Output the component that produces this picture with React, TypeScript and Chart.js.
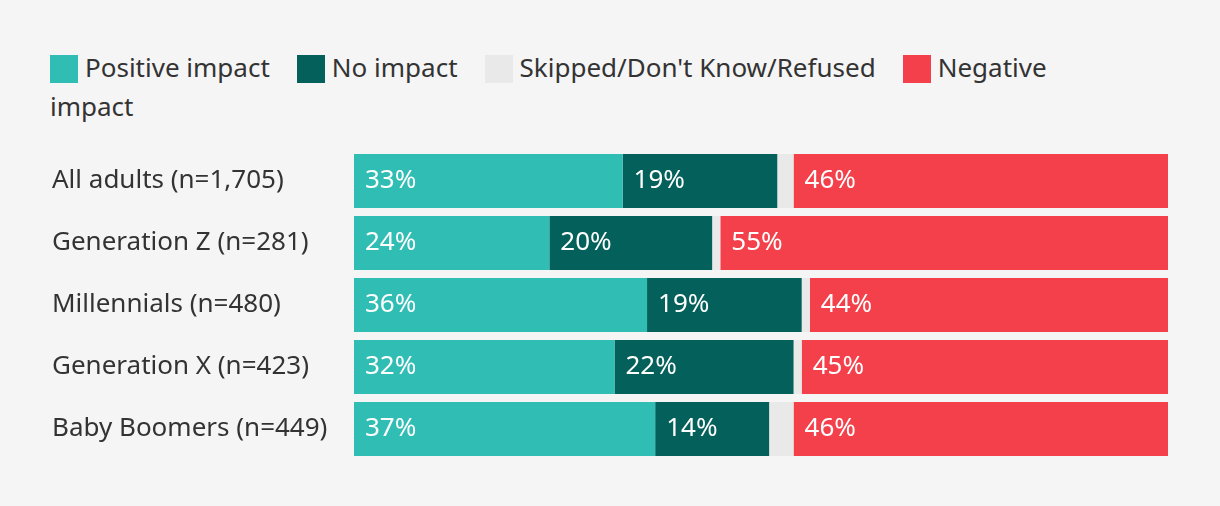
import React, { useEffect, useRef } from "react";
import { Chart, registerables } from "chart.js";

Chart.register(...registerables);

const categories = [
  "All adults (n=1,705)",
  "Generation Z (n=281)",
  "Millennials (n=480)",
  "Generation X (n=423)",
  "Baby Boomers (n=449)",
];
const seriesNames = ["Positive impact", "No impact", "Skipped/Don't Know/Refused", "Negative impact"];
const positive = [33, 24, 36, 32, 37];
const noImpact = [19, 20, 19, 22, 14];
const skipped = [2, 1, 1, 1, 3];
const negative = [46, 55, 44, 45, 46];
const colors = ["#30bdb4", "#03605a", "#e9e9e9", "#f4404b"];
const showLabel = [true, true, false, true];

const FONT = "'Noto Sans', Lato, sans-serif";
const TEXT = "#333333";

const labelPlugin = {
  id: "barLabels",
  afterDatasetsDraw(chart: any) {
    const ctx = chart.ctx;
    ctx.save();
    ctx.font = `26px ${FONT}`;
    ctx.fillStyle = "#ffffff";
    ctx.textAlign = "left";
    ctx.textBaseline = "middle";
    chart.data.datasets.forEach((ds: any, di: number) => {
      if (!showLabel[di]) return;
      const meta = chart.getDatasetMeta(di);
      meta.data.forEach((el: any, i: number) => {
        const p = el.getProps(["x", "y", "base"], true);
        const start = Math.min(p.x, p.base);
        ctx.fillText(`${ds.data[i]}%`, start + 11, p.y);
      });
    });
    ctx.restore();
  },
};

export default function App() {
  const ref = useRef<HTMLCanvasElement>(null);
  useEffect(() => {
    document.body.style.margin = "0";
    const data = [positive, noImpact, skipped, negative];
    const chart = new Chart(ref.current!, {
      type: "bar",
      data: {
        labels: categories,
        datasets: data.map((d, i) => ({
          label: seriesNames[i],
          data: d,
          backgroundColor: colors[i],
          borderWidth: 0,
          barPercentage: 54 / 62,
          categoryPercentage: 1,
        })),
      },
      options: {
        indexAxis: "y",
        animation: false,
        responsive: true,
        maintainAspectRatio: false,
        layout: { padding: { top: 20, bottom: 20, left: 52, right: 52 } },
        plugins: { legend: { display: false }, tooltip: { enabled: false } },
        scales: {
          x: { stacked: true, min: 0, max: 100, display: false },
          y: {
            stacked: true,
            grid: { display: false },
            border: { display: false },
            ticks: {
              crossAlign: "far",
              color: TEXT,
              padding: 3,
              font: { family: FONT, size: 26 },
            },
            afterFit(scale: any) {
              scale.width = 302;
            },
          },
        },
      },
      plugins: [labelPlugin],
    } as any);
    return () => chart.destroy();
  }, []);

  const sq = (c: string): React.CSSProperties => ({
    display: "inline-block",
    width: 28,
    height: 28,
    background: c,
    verticalAlign: "-6px",
    marginRight: 7,
  });

  return (
    <div
      style={{
        position: "absolute",
        left: 0,
        top: 0,
        width: 1220,
        height: 506,
        background: "#f5f5f5",
        fontFamily: FONT,
        color: TEXT,
      }}
    >
      <div
        style={{
          position: "absolute",
          left: 50,
          top: 48,
          width: 1040,
          fontSize: 26,
          lineHeight: "39px",
        }}
      >
        {seriesNames.map((n, i) => (
          <React.Fragment key={n}>
            <span style={sq(colors[i])} />
            {n}
            {i < seriesNames.length - 1 ? <span style={{ display: "inline-block", width: 27 }} /> : null}
          </React.Fragment>
        ))}
      </div>
      <div style={{ position: "absolute", left: 0, top: 130, width: 1220, height: 350 }}>
        <canvas ref={ref} />
      </div>
    </div>
  );
}
